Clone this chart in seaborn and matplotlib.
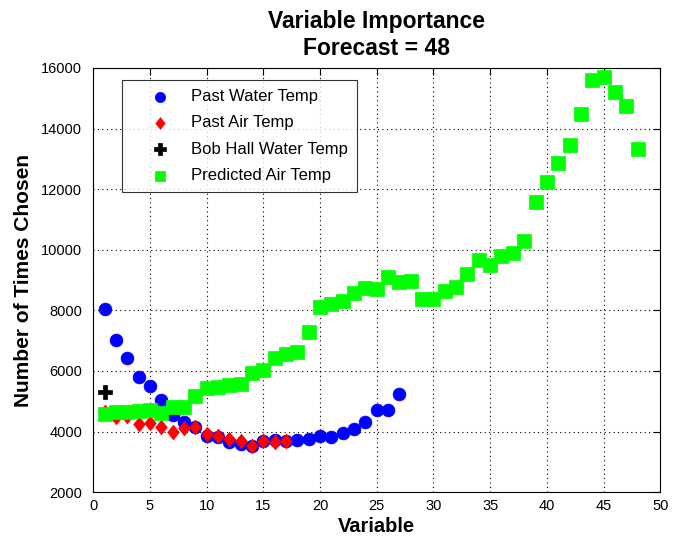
import matplotlib
matplotlib.use("Agg")
import matplotlib.pyplot as plt
import seaborn as sns

water_x = list(range(1, 28))
water_y = [8040, 7020, 6420, 5800, 5500, 5040, 4540, 4310, 4150, 3850, 3820, 3650, 3590,
           3520, 3680, 3720, 3680, 3720, 3750, 3850, 3820, 3950, 4080, 4310, 4700, 4700, 5230]

air_x = list(range(1, 18))
air_y = [4650, 4470, 4520, 4250, 4280, 4150, 4000, 4110, 4150, 3920, 3850, 3750, 3690,
         3520, 3690, 3650, 3700]

bob_x = [1]
bob_y = [5300]

pred_x = list(range(1, 49))
pred_y = [4570, 4640, 4640, 4670, 4700, 4600, 4800, 4800, 5170, 5430, 5470, 5530, 5570,
          5930, 6030, 6420, 6560, 6620, 7280, 8100, 8200, 8300, 8570, 8730, 8700, 9100,
          8930, 8970, 8370, 8370, 8640, 8770, 9200, 9660, 9490, 9790, 9890, 10290, 11570,
          12230, 12860, 13460, 14480, 15600, 15700, 15210, 14740, 13320]

sns.set_style("white")
plt.rcParams['font.family'] = ['Liberation Sans', 'DejaVu Sans']
plt.rcParams['text.color'] = 'black'
plt.rcParams['axes.labelcolor'] = 'black'

fig = plt.figure(figsize=(6.8, 5.48), dpi=100)
ax = fig.add_axes([0.137, 0.102, 0.834, 0.774])

diamond = [(0, 1), (0.8, 0), (0, -1), (-0.8, 0), (0, 1)]

sns.scatterplot(x=water_x, y=water_y, ax=ax, marker='o', color='#0000ff', s=85,
                edgecolor='#0000ff', linewidth=0.5, label='Past Water Temp', zorder=3)
sns.scatterplot(x=air_x, y=air_y, ax=ax, marker=diamond, color='#ff0000', s=110,
                edgecolor='#ff0000', linewidth=0.5, label='Past Air Temp', zorder=4)
sns.scatterplot(x=bob_x, y=bob_y, ax=ax, marker='P', color='black', s=110,
                edgecolor='black', linewidth=0.5, label='Bob Hall Water Temp', zorder=5)
sns.scatterplot(x=pred_x, y=pred_y, ax=ax, marker='s', color='#00ff00', s=90,
                edgecolor='#00ff00', linewidth=0.5, label='Predicted Air Temp', zorder=6)

ax.set_xlim(0, 50)
ax.set_ylim(2000, 16000)
ax.set_xticks(range(0, 51, 5))
ax.set_yticks(range(2000, 16001, 2000))
ax.grid(True, color='black', linestyle=(0, (1, 3)), linewidth=0.8)
ax.tick_params(direction='in', top=True, right=True, length=5, labelsize=10.5,
               color='black', labelcolor='black')
ax.tick_params(axis='y', pad=8)
ax.tick_params(axis='x', pad=5)
for sp in ax.spines.values():
    sp.set_color('black')
    sp.set_linewidth(0.8)
ax.set_axisbelow(True)

ax.set_xlabel('Variable', fontsize=14.5, fontweight='bold', labelpad=3, color='black')
ax.set_ylabel('Number of Times Chosen', fontsize=15, fontweight='bold', labelpad=6, color='black')
ax.set_title('Variable Importance\nForecast = 48', fontsize=16.5, fontweight='bold', pad=9,
             linespacing=1.25, color='black')

leg = ax.legend(loc='upper left', bbox_to_anchor=(0.051, 0.972), frameon=True, fancybox=False,
                fontsize=12, handletextpad=0.1, labelspacing=0.68, borderpad=0.55,
                handlelength=3.5, markerscale=0.8, borderaxespad=0)
leg.get_frame().set_edgecolor('black')
leg.get_frame().set_linewidth(0.8)
for t in leg.get_texts():
    t.set_color('black')

fig.savefig('out.png', dpi=100)
